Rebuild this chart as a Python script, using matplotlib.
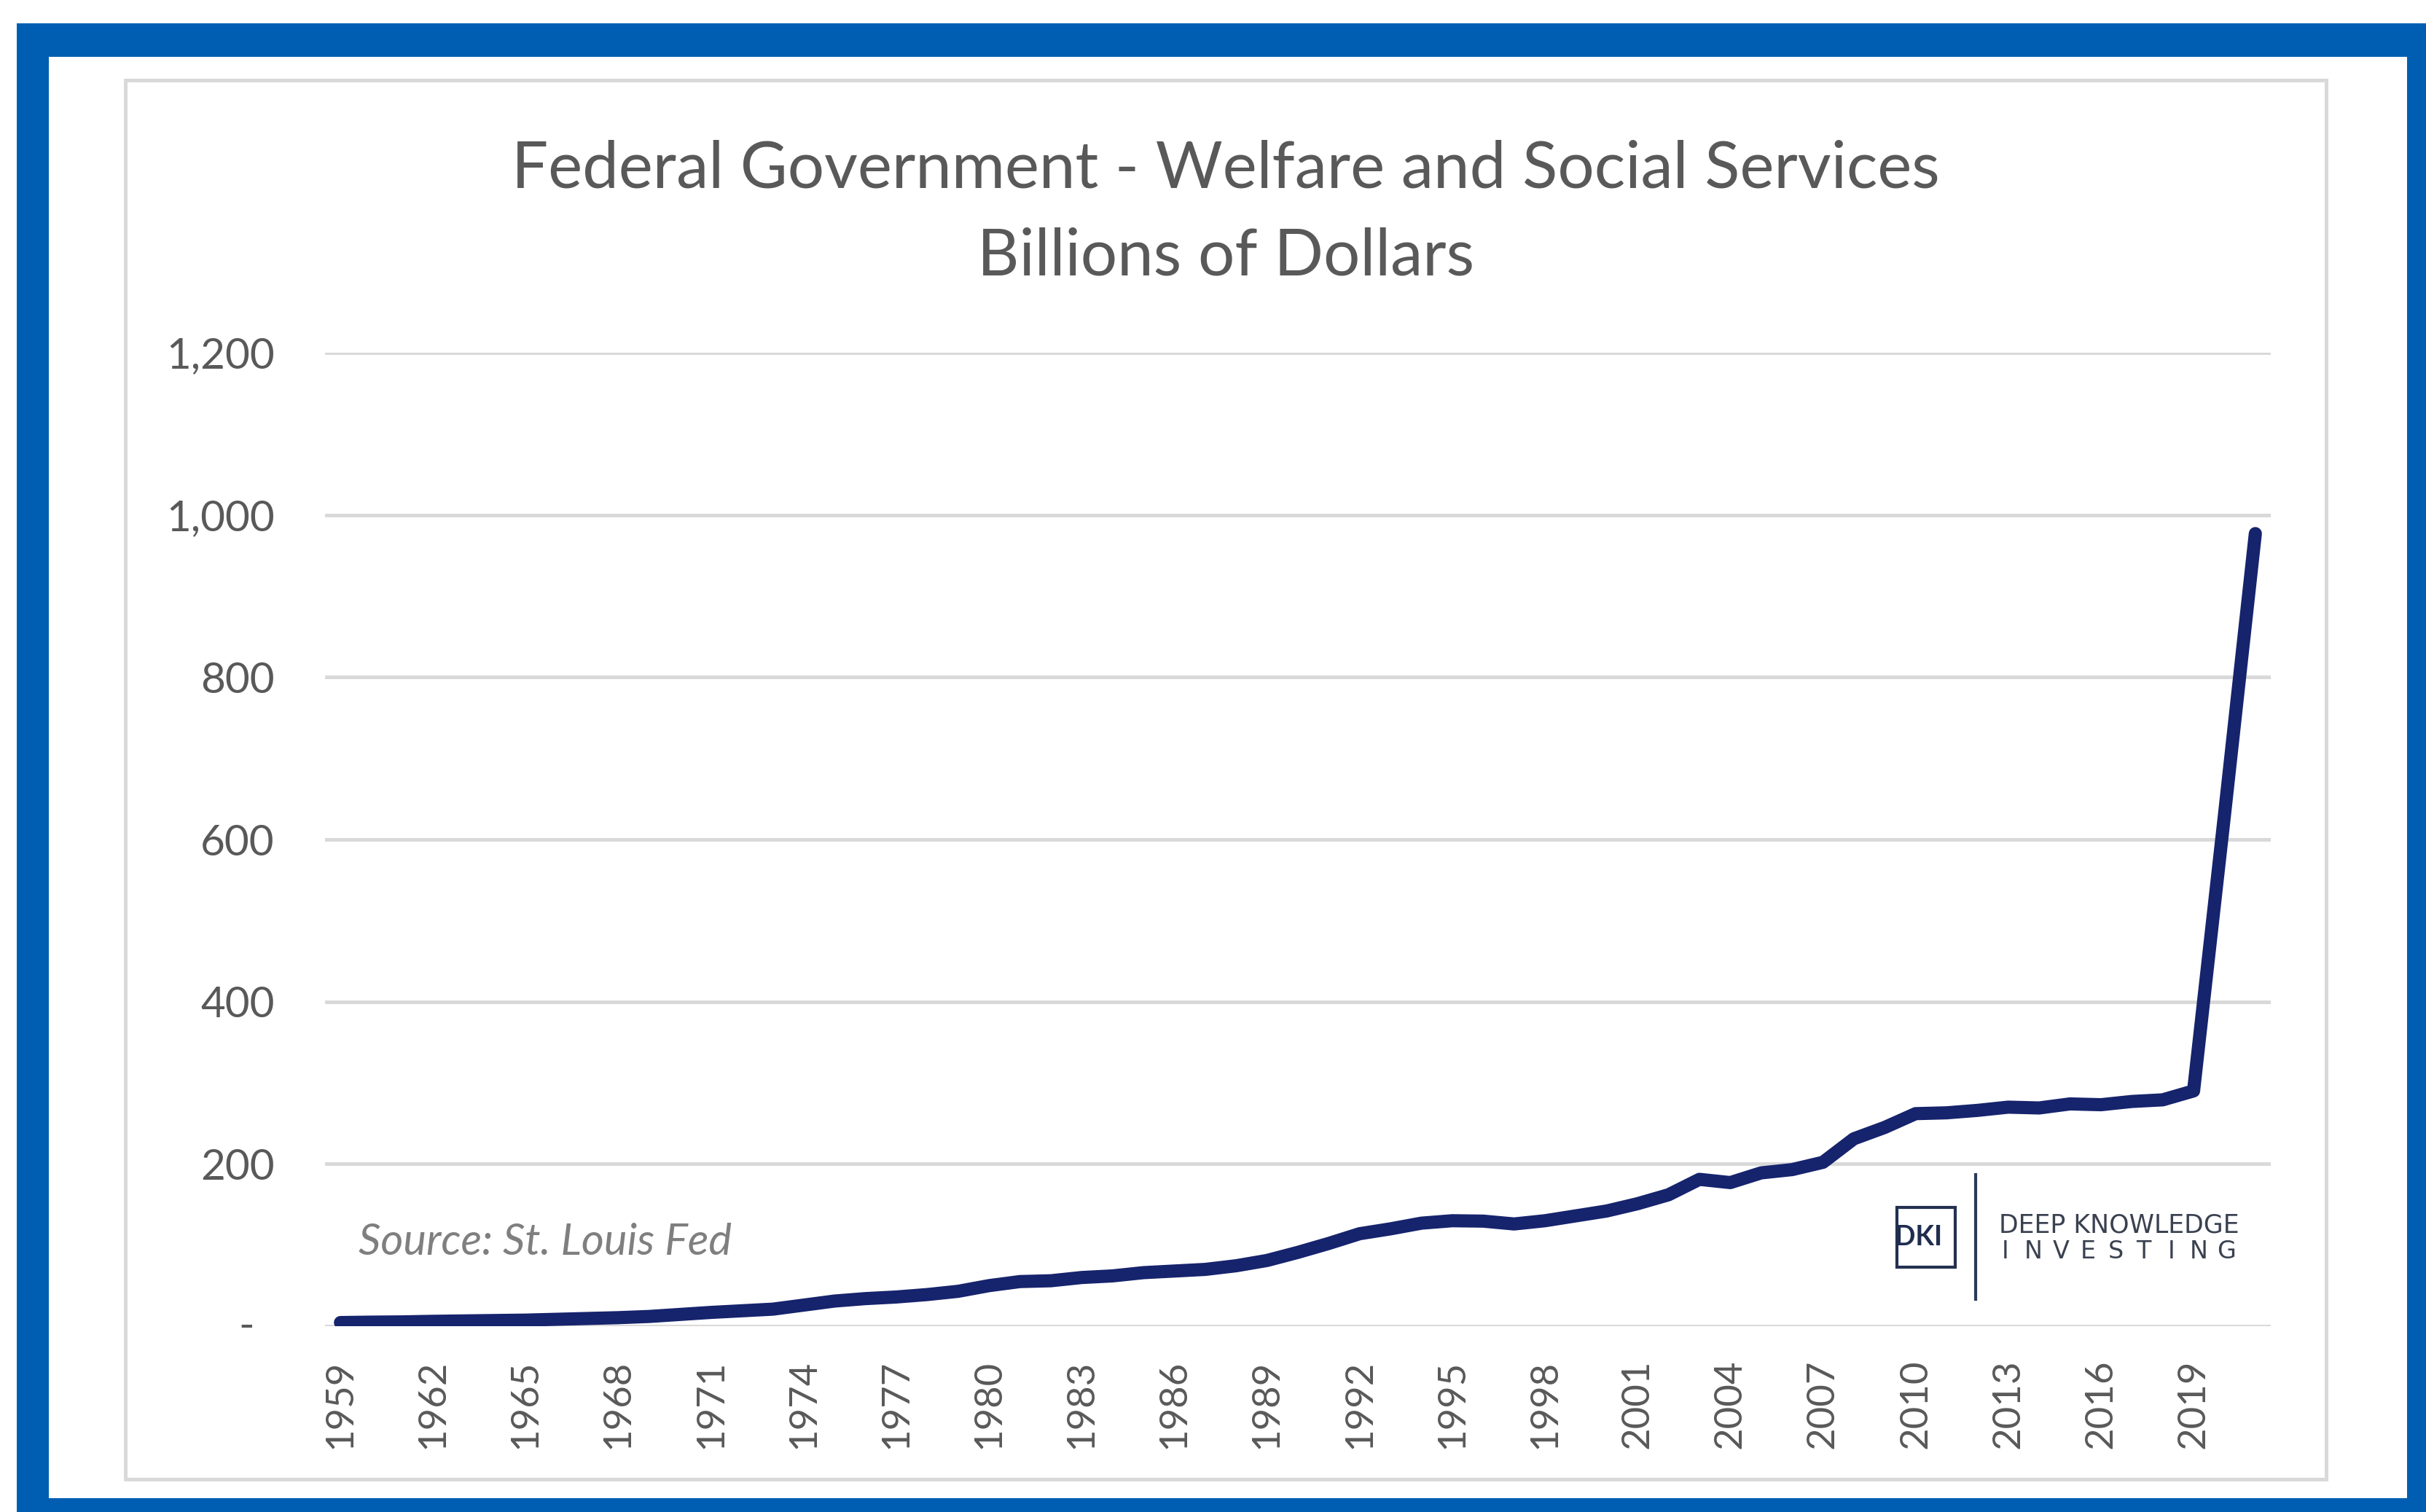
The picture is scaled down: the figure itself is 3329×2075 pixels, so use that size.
import matplotlib
matplotlib.use("Agg")
import matplotlib.pyplot as plt
from matplotlib.patches import Rectangle
from matplotlib.lines import Line2D
from matplotlib.ticker import FuncFormatter, FixedLocator

# federal welfare and social services spending, billions of dollars
years = list(range(1959, 2022))
spending = [4.5, 5, 5.3, 6, 6.5, 7, 7.5, 8.5, 9.5, 10.5,
            12, 14.5, 17, 19, 21, 26, 31, 34, 36, 39,
            43, 50, 55, 56, 60, 62, 66, 68, 70, 74.5,
            81, 91, 102, 114, 120, 127, 130, 129.5, 126, 130,
            136, 142, 151, 162, 181, 177, 189, 193, 202, 231,
            245, 262, 263, 266, 270, 269, 274, 273, 277, 279,
            290, 630, 977]
y_ticks = [0, 200, 400, 600, 800, 1000, 1200]
title_lines = ["Federal Government - Welfare and Social Services", "Billions of Dollars"]
source_note = "Source: St. Louis Fed"

W, H = 3330, 2075
FONT = "Lato"
TXT = "#595959"
GRID = "#d9d9d9"
NAVY = "#16236d"

fig = plt.figure(figsize=(W / 100, H / 100), dpi=100)


def fx(x):
    return x / W


def fy(y):
    return 1 - y / H


def box(x0, y0, x1, y1, **kw):
    r = Rectangle((fx(x0), fy(y1)), fx(x1) - fx(x0), fy(y0) - fy(y1),
                  transform=fig.transFigure, **kw)
    fig.add_artist(r)
    return r


# blue frame, white page, grey chart border
box(23, 32, W + 20, H + 20, facecolor="#005eb2", edgecolor="none", zorder=-10)
box(67, 78, 3303, 2056, facecolor="white", edgecolor="none", zorder=-9)
box(172, 110, 3192, 2030, facecolor="white", edgecolor=GRID, lw=3.6, zorder=-8)

ax_w = (3116 - 446) / W
ax = fig.add_axes([fx(446), fy(1820), ax_w, (1820 - 484) / H])
ax.set_facecolor("none")

x = list(range(len(years)))
ax.plot(x, spending, color=NAVY, lw=13, solid_capstyle="round",
        solid_joinstyle="round", zorder=3)

ax.set_xlim(-0.5, len(years) - 0.5)
ax.set_ylim(0, 1200)
ax.yaxis.set_major_locator(FixedLocator(y_ticks))
ax.yaxis.set_major_formatter(FuncFormatter(lambda v, p: "" if v == 0 else f"{v:,.0f}"))
ax.grid(axis="y", color=GRID, lw=3.6, zorder=1)
ax.set_axisbelow(True)

tick_idx = list(range(0, len(years), 3))
ax.set_xticks(tick_idx)
ax.set_xticklabels([str(years[i]) for i in tick_idx], rotation=90)

for s in ax.spines.values():
    s.set_visible(False)
ax.tick_params(axis="both", length=0, colors=TXT)
ax.tick_params(axis="y", pad=50, labelsize=42)
ax.tick_params(axis="x", pad=33, labelsize=38)
for lab in ax.get_xticklabels() + ax.get_yticklabels():
    lab.set_fontfamily(FONT)

# accounting-style dash for zero
ax.text((338 - 446) / W / ax_w, 0, "-",
        transform=ax.get_yaxis_transform(), ha="center", va="center",
        fontsize=42, color=TXT, family=FONT)

# titles
fig.text(fx(1682), fy(257), title_lines[0], ha="center", va="baseline",
         fontsize=64, color=TXT, family=FONT)
fig.text(fx(1682), fy(378), title_lines[1], ha="center", va="baseline",
         fontsize=64, color=TXT, family=FONT)

fig.text(fx(492), fy(1722), source_note, ha="left", va="baseline",
         fontsize=43, color="#7f7f7f", style="italic", family=FONT)

# logo block
box(2603, 1657, 2683, 1739, facecolor="white", edgecolor="#233050", lw=3, zorder=5)
fig.text(fx(2600), fy(1698), "DKI", ha="left", va="center", fontsize=27,
         fontweight="bold", color="#1f2d4f", family=FONT, zorder=6)
fig.add_artist(Line2D([fx(2711), fx(2711)], [fy(1612), fy(1783)],
                      transform=fig.transFigure, color="#2b3a55", lw=3, zorder=6))
fig.text(fx(2743), fy(1692), "DEEP KNOWLEDGE", ha="left", va="baseline",
         fontsize=25, color="#3a4150", family="DejaVu Sans", zorder=6)
for k, ch in enumerate("INVESTING"):
    fig.text(fx(2752 + k * 37.9), fy(1727), ch, ha="center", va="baseline",
             fontsize=24, color="#3a4150", family="DejaVu Sans", zorder=6)

fig.savefig("out.png", dpi=100, facecolor="white")
